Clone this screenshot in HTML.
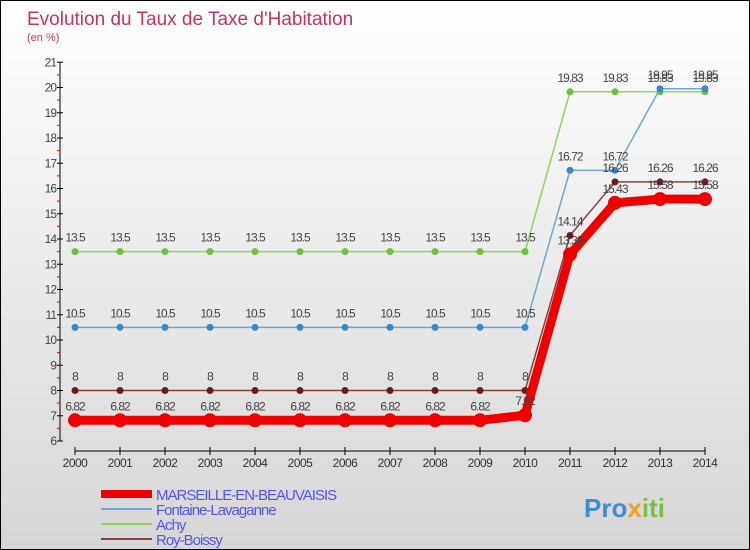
<!DOCTYPE html>
<html><head><meta charset="utf-8"><style>
body{margin:0}
#c{width:748px;height:548px;border:1px solid #000;background:linear-gradient(#fff,#d6d6d6);position:relative;font-family:"Liberation Sans",sans-serif}
</style></head><body>
<div id="c">
<svg id="s" width="748" height="548" style="position:absolute;left:0;top:0">
<text x="26" y="24" font-size="19" fill="#c8335e">Evolution du Taux de Taxe d'Habitation</text>
<text x="26" y="40" font-size="11" fill="#c8335e">(en %)</text>
<g id="ax"></g><g id="pl"></g><g id="lg"></g>
<text x="583" y="516" font-size="26" font-weight="bold" fill="#3a8fd0">Pro<tspan fill="#f0a020">x</tspan><tspan fill="#7ac043">iti</tspan></text>
</svg></div>
<script>
const years=[2000,2001,2002,2003,2004,2005,2006,2007,2008,2009,2010,2011,2012,2013,2014];
const yTicks=[6,7,8,9,10,11,12,13,14,15,16,17,18,19,20,21];
const marseille=[6.82,6.82,6.82,6.82,6.82,6.82,6.82,6.82,6.82,6.82,7.02,13.39,15.43,15.58,15.58];
const fontaine=[10.5,10.5,10.5,10.5,10.5,10.5,10.5,10.5,10.5,10.5,10.5,16.72,16.72,19.95,19.95];
const achy=[13.5,13.5,13.5,13.5,13.5,13.5,13.5,13.5,13.5,13.5,13.5,19.83,19.83,19.83,19.83];
const roy=[8,8,8,8,8,8,8,8,8,8,8,14.14,16.26,16.26,16.26];
const seriesNames=["MARSEILLE-EN-BEAUVAISIS","Fontaine-Lavaganne","Achy","Roy-Boissy"];
const NS="http://www.w3.org/2000/svg";
const X=i=>74+i*45, Y=v=>440-(v-6)*25.25;
function mk(p,t,a){const e=document.createElementNS(NS,t);for(const k in a)e.setAttribute(k,a[k]);p.appendChild(e);return e;}
const ax=document.getElementById('ax'),pl=document.getElementById('pl'),lg=document.getElementById('lg');
let e=mk(ax,'line',{x1:59,y1:Y(21),x2:59,y2:Y(6),stroke:'#000'});

yTicks.forEach(v=>{mk(ax,'line',{x1:56,x2:62,y1:Y(v),y2:Y(v),stroke:'#000'});
 if(v<21)mk(ax,'line',{x1:56,x2:59,y1:Y(v+0.5),y2:Y(v+0.5),stroke:'#e00'});
 const t=mk(ax,'text',{x:55,y:Y(v)+4,'font-size':12,fill:'#444','text-anchor':'end','letter-spacing':'-1'});t.textContent=v;
 });
e=mk(ax,'line',{x1:X(0),x2:X(14),y1:450,y2:450,stroke:'#000'});

years.forEach((y,i)=>{mk(ax,'line',{x1:X(i),x2:X(i),y1:446,y2:454,stroke:'#000'});
 const t=mk(ax,'text',{x:X(i),y:466,'font-size':12,fill:'#333','text-anchor':'middle','letter-spacing':'-0.5'});t.textContent=y;
 });
const defs=[[achy,'#88d860','#6fc040',1.5,3.5,'achy'],[fontaine,'#6aa8d8','#3a88c8',1.5,3.5,'fontaine-lavaganne'],[roy,'#8a4040','#6a1a1a',1.5,3.5,'roy-boissy'],[marseille,'#ee0000','#ee0000',9,7,'marseille-en-beauvaisis']];
defs.forEach(([d,lc,pc,w,r,n])=>{
 const l=mk(pl,'polyline',{points:d.map((v,i)=>X(i)+','+Y(v)).join(' '),fill:'none',stroke:lc,'stroke-width':w,'stroke-linejoin':'round'});
 
 d.forEach((v,i)=>{const c=mk(pl,'circle',{cx:X(i),cy:Y(v),r:r,fill:pc});
  
  const t=mk(pl,'text',{x:X(i),y:Y(v)-10,'font-size':12,fill:'#444','text-anchor':'middle','letter-spacing':'-1'});t.textContent=v;
  });
});
const lgc=[['#ee0000',8],['#6aa8d8',2],['#88d860',2],['#8a4040',2]];
seriesNames.forEach((n,i)=>{const y=493+i*15;
 const l=mk(lg,'line',{x1:100,x2:151,y1:y,y2:y,stroke:lgc[i][0],'stroke-width':lgc[i][1]});
 
 const t=mk(lg,'text',{x:155,y:y+6,'font-size':15,fill:'#5555ee','letter-spacing':'-1'});t.textContent=n;
 });
</script>
</body></html>
